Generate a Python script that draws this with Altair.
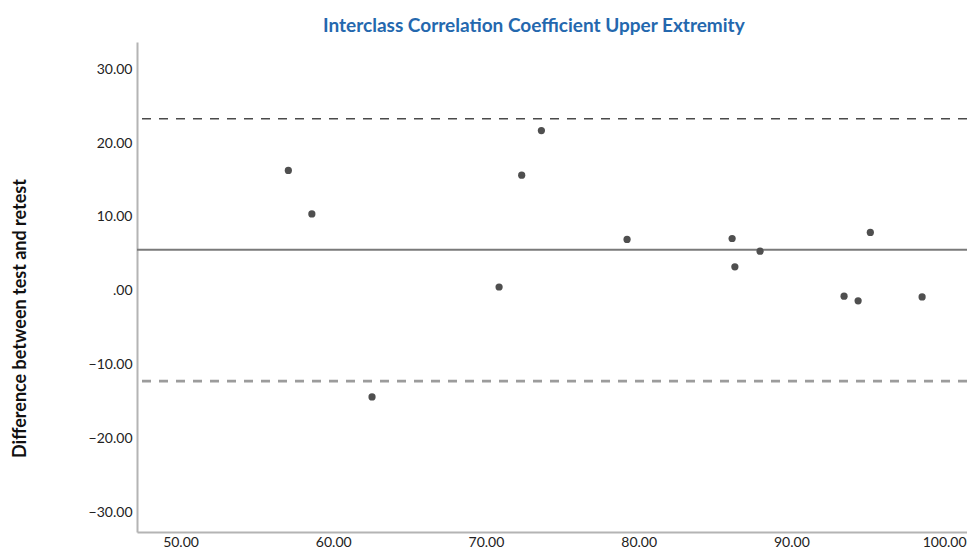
import altair as alt
import pandas as pd

# Data
mean_x = [57.06, 58.6, 62.54, 70.86, 72.34, 73.63, 79.24, 86.12, 86.3, 87.95, 93.45, 94.37, 95.17, 98.56]
diff_y = [16.3, 10.4, -14.4, 0.5, 15.65, 21.7, 6.94, 7.07, 3.23, 5.35, -0.75, -1.38, 7.89, -0.84]
upper_loa = [23.3]
mean_diff = [5.55]
lower_loa = [-12.25]
x_ticks = [50, 60, 70, 80, 90, 100]
y_ticks = [-30, -20, -10, 0, 10, 20, 30]

pts = pd.DataFrame({"x": mean_x, "y": diff_y})

label_expr = "datum.value == 0 ? '.00' : format(datum.value, '.2f')"

xscale = alt.Scale(domain=[47.15, 101.5], nice=False, zero=False)
yscale = alt.Scale(domain=[-32.7, 33.7], nice=False, zero=False)

points = alt.Chart(pts).mark_circle(size=52, color="#4f4f4f", opacity=1).encode(
    x=alt.X("x:Q", scale=xscale,
            axis=alt.Axis(title=None, values=x_ticks, labelExpr=label_expr,
                          ticks=False, grid=False, labelPadding=3)),
    y=alt.Y("y:Q", scale=yscale,
            axis=alt.Axis(title="Difference between test and retest", values=y_ticks,
                          labelExpr=label_expr, ticks=False, grid=False, labelPadding=5,
                          titleAngle=270, titleX=-117, titleY=276,
                          titleAlign="center", titleBaseline="middle",
                          titleFontSize=18, titleFontWeight="bold",
                          titleFont="Lato", titleColor="#111111")),
)

upper = alt.Chart(pd.DataFrame({"y": upper_loa})).mark_rule(
    color="#4a4a4a", strokeWidth=1.4, strokeDash=[9, 8]).encode(y=alt.Y("y:Q", scale=yscale))
mid = alt.Chart(pd.DataFrame({"y": mean_diff})).mark_rule(
    color="#7a7a7a", strokeWidth=2).encode(y=alt.Y("y:Q", scale=yscale))
lower = alt.Chart(pd.DataFrame({"y": lower_loa})).mark_rule(
    color="#9c9c9c", strokeWidth=2.6, strokeDash=[9, 8]).encode(y=alt.Y("y:Q", scale=yscale))

chart = alt.layer(upper, mid, lower, points).properties(
    width=830, height=490,
    autosize=alt.AutoSizeParams(type="none"),
    padding={"left": 129, "top": 34, "right": 0, "bottom": 16},
    title=alt.Title("Interclass Correlation Coefficient Upper Extremity",
                    font="Lato", fontSize=19, fontWeight="bold", color="#2468ae",
                    anchor="start", frame="group", dx=186, dy=20, offset=11,
                    baseline="alphabetic"),
).configure_view(stroke=None).configure_axis(
    domainColor="#b4b4b4", domainWidth=2, labelFont="Lato", labelFontSize=14,
    labelColor="#222222",
)

chart.save("out.html", embed_options={"renderer": "svg", "actions": False})
